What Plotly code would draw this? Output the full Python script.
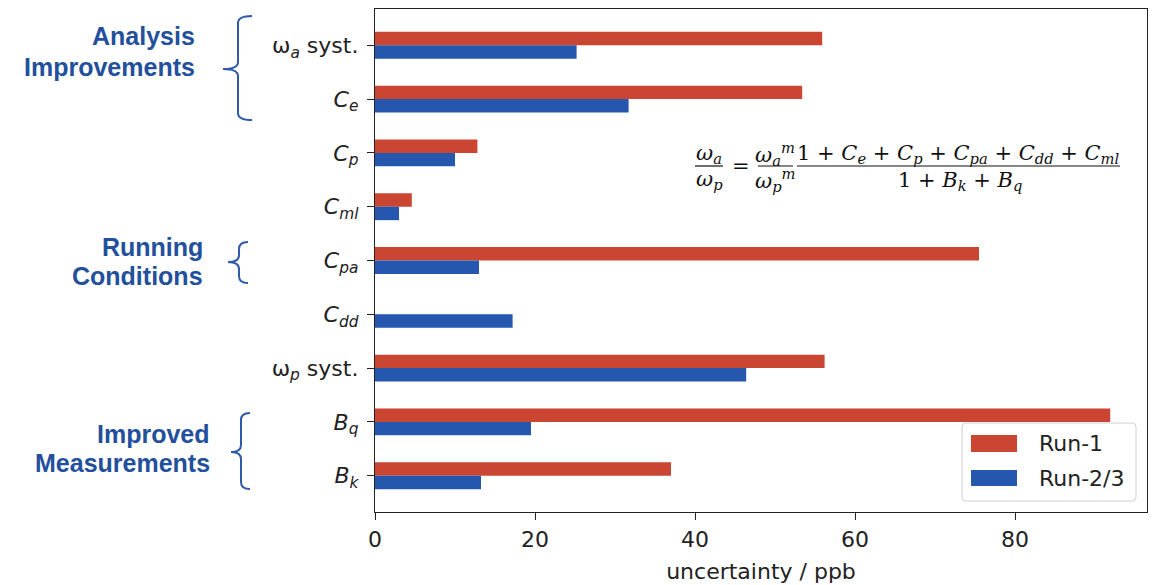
import plotly.graph_objects as go

categories = [
    "ω<sub><i>a</i></sub> syst.",
    "<i>C<sub>e</sub></i>",
    "<i>C<sub>p</sub></i>",
    "<i>C<sub>ml</sub></i>",
    "<i>C<sub>pa</sub></i>",
    "<i>C<sub>dd</sub></i>",
    "ω<sub><i>p</i></sub> syst.",
    "<i>B<sub>q</sub></i>",
    "<i>B<sub>k</sub></i>",
]
run1 = [55.9, 53.4, 12.8, 4.6, 75.5, 0.0, 56.2, 91.9, 37.0]
run23 = [25.2, 31.7, 10.0, 3.0, 13.0, 17.2, 46.4, 19.5, 13.25]
series_names = ["Run-1", "Run-2/3"]
x_ticks = [0, 20, 40, 60, 80]

RED = "#CB4533"
BLUE = "#2457AD"
TXT_BLUE = "#22509C"
BRACE = "#2E5CA8"

OFF = 8  # default page body margin
W, H = 1160 - OFF, 585 - OFF
L, R, T, B = 375, 1147, 9, 512  # plot area in page pixels


def px(x):
    return (x - L) / (R - L)


def py(y):
    return (B - y) / (B - T)


fig = go.Figure()
colors = [RED, BLUE]
for name, vals, col in zip(series_names, [run1, run23], colors):
    fig.add_trace(go.Bar(y=categories, x=vals, name=name, orientation="h",
                         marker=dict(color=col, line=dict(width=0)), showlegend=False))

axis_common = dict(showline=True, linecolor="#222", linewidth=1.3, mirror=True,
                   ticks="outside", ticklen=7, tickwidth=1.3, tickcolor="#222",
                   showgrid=False, zeroline=False,
                   tickfont=dict(family="DejaVu Sans", size=22, color="#222"))

fig.update_layout(
    width=W, height=H,
    margin=dict(l=L - OFF, r=W - (R - OFF), t=T - OFF, b=H - (B - OFF)),
    plot_bgcolor="white", paper_bgcolor="white",
    barmode="group", bargap=0.5, bargroupgap=0,
    xaxis=dict(range=[0, 96.5], tickvals=x_ticks,
               title=dict(text="uncertainty / ppb", standoff=13,
                          font=dict(family="DejaVu Sans", size=22, color="#222")),
               **axis_common),
    yaxis=dict(range=[8.675, -0.675], ticklabelstandoff=4, **axis_common),
    showlegend=False,
)

anns = []
# group labels
for text, xr, yc in [("Analysis", 197, 36), ("Improvements", 197, 67),
                     ("Running", 205, 247), ("Conditions", 205, 276),
                     ("Improved", 212, 434), ("Measurements", 212, 463)]:
    anns.append(dict(text=f"<b>{text}</b>", x=px(xr), y=py(yc), xref="paper", yref="paper",
                     xanchor="right", yanchor="middle", showarrow=False,
                     font=dict(family="Liberation Sans", size=25, color=TXT_BLUE)))

# formula
FF = dict(family="DejaVu Serif", size=21, color="#111")
formula = [
    ("<i>ω<sub>a</sub></i>", 709, 154),
    ("<i>ω<sub>p</sub></i>", 709, 180),
    ("=", 741, 166),
    ("<i>ω<sub>a</sub><sup>m</sup></i>", 775, 154),
    ("<i>ω<sub>p</sub><sup>m</sup></i>", 775, 180),
    ("1 + <i>C<sub>e</sub></i> + <i>C<sub>p</sub></i> + <i>C<sub>pa</sub></i> + <i>C<sub>dd</sub></i> + <i>C<sub>ml</sub></i>", 958, 154),
    ("1 + <i>B<sub>k</sub></i> + <i>B<sub>q</sub></i>", 960, 181),
]
for text, xc, yc in formula:
    anns.append(dict(text=text, x=px(xc), y=py(yc), xref="paper", yref="paper",
                     xanchor="center", yanchor="middle", showarrow=False, font=FF))

# legend (drawn)
for name, yc in zip(series_names, [443, 478]):
    anns.append(dict(text=name, x=px(1037), y=py(yc), xref="paper", yref="paper",
                     xanchor="left", yanchor="middle", showarrow=False,
                     font=dict(family="DejaVu Sans", size=22, color="#222")))
fig.update_layout(annotations=anns)

shapes = []
for x0, x1 in [(695, 723), (758, 793), (797, 1120)]:
    shapes.append(dict(type="line", xref="paper", yref="paper",
                       x0=px(x0), x1=px(x1), y0=py(166), y1=py(166),
                       line=dict(color="#111", width=1.2)))


def brace(yt, yb, ym, xs, xh, xt, r=7):
    pts = [
        f"M {px(xh)},{py(yt)}",
        f"Q {px(xs)},{py(yt)} {px(xs)},{py(yt + r)}",
        f"L {px(xs)},{py(ym - r)}",
        f"Q {px(xs)},{py(ym)} {px(xt)},{py(ym)}",
        f"Q {px(xs)},{py(ym)} {px(xs)},{py(ym + r)}",
        f"L {px(xs)},{py(yb - r)}",
        f"Q {px(xs)},{py(yb)} {px(xh)},{py(yb)}",
    ]
    return dict(type="path", xref="paper", yref="paper", path=" ".join(pts),
                line=dict(color=BRACE, width=2))


shapes.append(brace(16, 120, 69, 238, 252, 223))
shapes.append(brace(242, 283, 262, 239, 248, 228))
shapes.append(brace(413, 489, 452, 241, 250, 231))

# legend box and swatches
def rr(x0, y0, x1, y1, r=4):
    a, b, c, d = px(x0), py(y0), px(x1), py(y1)
    rx = r / (R - L)
    ry = r / (B - T)
    return (f"M {a+rx},{b} L {c-rx},{b} Q {c},{b} {c},{b-ry} L {c},{d+ry} "
            f"Q {c},{d} {c-rx},{d} L {a+rx},{d} Q {a},{d} {a},{d+ry} L {a},{b-ry} "
            f"Q {a},{b} {a+rx},{b} Z")


shapes.append(dict(type="path", xref="paper", yref="paper", path=rr(962, 423, 1136, 501),
                   line=dict(color="#d0d0d0", width=1), fillcolor="rgba(255,255,255,0.85)"))
for col, (y0, y1) in zip(colors, [(435, 452), (470, 486)]):
    shapes.append(dict(type="rect", xref="paper", yref="paper",
                       x0=px(971), x1=px(1017), y0=py(y1), y1=py(y0),
                       line=dict(width=0), fillcolor=col))
fig.update_layout(shapes=shapes)

fig.write_html("out.html")
